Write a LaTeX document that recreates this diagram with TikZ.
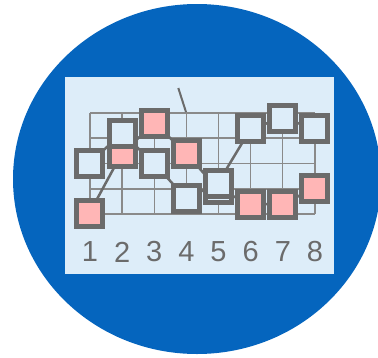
\documentclass[tikz,border=0pt]{standalone}
\usepackage{fontspec}
\setmainfont{Liberation Sans}
\definecolor{bgblue}{HTML}{0565BE}
\definecolor{panel}{HTML}{DDEDF9}
\definecolor{sqgray}{HTML}{6B6B6B}
\definecolor{gridgray}{HTML}{8A8A8A}
\definecolor{pinkfill}{HTML}{FFB6B6}
\tikzset{
  sq/.style={draw=sqgray, line width=5pt, minimum size=26pt, inner sep=0pt, outer sep=0pt},
  lsq/.style={sq, fill=panel},
  psq/.style={sq, fill=pinkfill},
  gridline/.style={draw=gridgray, line width=1.3pt},
  conn/.style={draw=sqgray, line width=2.5pt},
  num/.style={text=sqgray, font=\fontsize{29}{30}\selectfont, inner sep=0pt}
}
\begin{document}
\begin{tikzpicture}[x=1pt,y=-1pt]
\useasboundingbox (0,0) rectangle (378,357);
\begin{scope}
\clip (0,0) rectangle (378,357);
\fill[bgblue] (197,179) ellipse [x radius=184, y radius=175];
\end{scope}
\fill[panel] (65,77) rectangle (334,274);
% grid
\foreach \i in {0,...,7} {
  \draw[gridline] (90+32.14*\i,113) -- (90+32.14*\i,214);
}
\foreach \y in {113,138,163.5,189,214} {
  \draw[gridline] (90,\y) -- (315,\y);
}
% pointer
\coordinate (pa) at (178.3,88);
\coordinate (pb) at (186,112);
\draw[conn, line width=2pt] (pa) -- (pb);
% squares positions (coordinates)
\coordinate (c1L) at (89.5,163.3);
\coordinate (c1P) at (89.5,213);
\coordinate (c2L) at (122,133);
\coordinate (c2P) at (122,153);
\coordinate (c3P) at (154.5,123.3);
\coordinate (c3L) at (154.5,163.7);
\coordinate (c4P) at (186.3,153.3);
\coordinate (c4L) at (186.3,198.7);
\coordinate (c5B) at (218,189.5);
\coordinate (c5F) at (218,183);
\coordinate (c6L) at (250.8,128.7);
\coordinate (c6P) at (250.8,204);
\coordinate (c7L) at (282.8,118);
\coordinate (c7P) at (282.8,204);
\coordinate (c8L) at (314.7,128.7);
\coordinate (c8P) at (314.7,188);
% connectors
\draw[conn] (c1L) -- (c2L) -- (c3L) -- (c4L) -- (c5F) -- (c6L) -- (c7L) -- (c8L);
\draw[conn] (c1P) -- (c2P) -- (c3P) -- (c4P) -- (c5B) -- (c6P) -- (c7P) -- (c8P);
% squares
\node[lsq] (s1L) at (c1L) {};
\node[psq] (s1P) at (c1P) {};
\node[psq] (s2P) at (c2P) {};
\node[lsq] (s2L) at (c2L) {};
\node[psq] (s3P) at (c3P) {};
\node[lsq] (s3L) at (c3L) {};
\node[psq] (s4P) at (c4P) {};
\node[lsq] (s4L) at (c4L) {};
\node[lsq] (s5B) at (c5B) {};
\node[lsq] (s5F) at (c5F) {};
\node[lsq] (s6L) at (c6L) {};
\node[psq] (s6P) at (c6P) {};
\node[lsq] (s7L) at (c7L) {};
\node[psq] (s7P) at (c7P) {};
\node[lsq] (s8L) at (c8L) {};
\node[psq] (s8P) at (c8P) {};
% numbers
\foreach \i in {1,...,8} {
  \node[num] (n\i) at (90+32.14*\i-32.14,252) {\i};
}
\end{tikzpicture}
\end{document}
